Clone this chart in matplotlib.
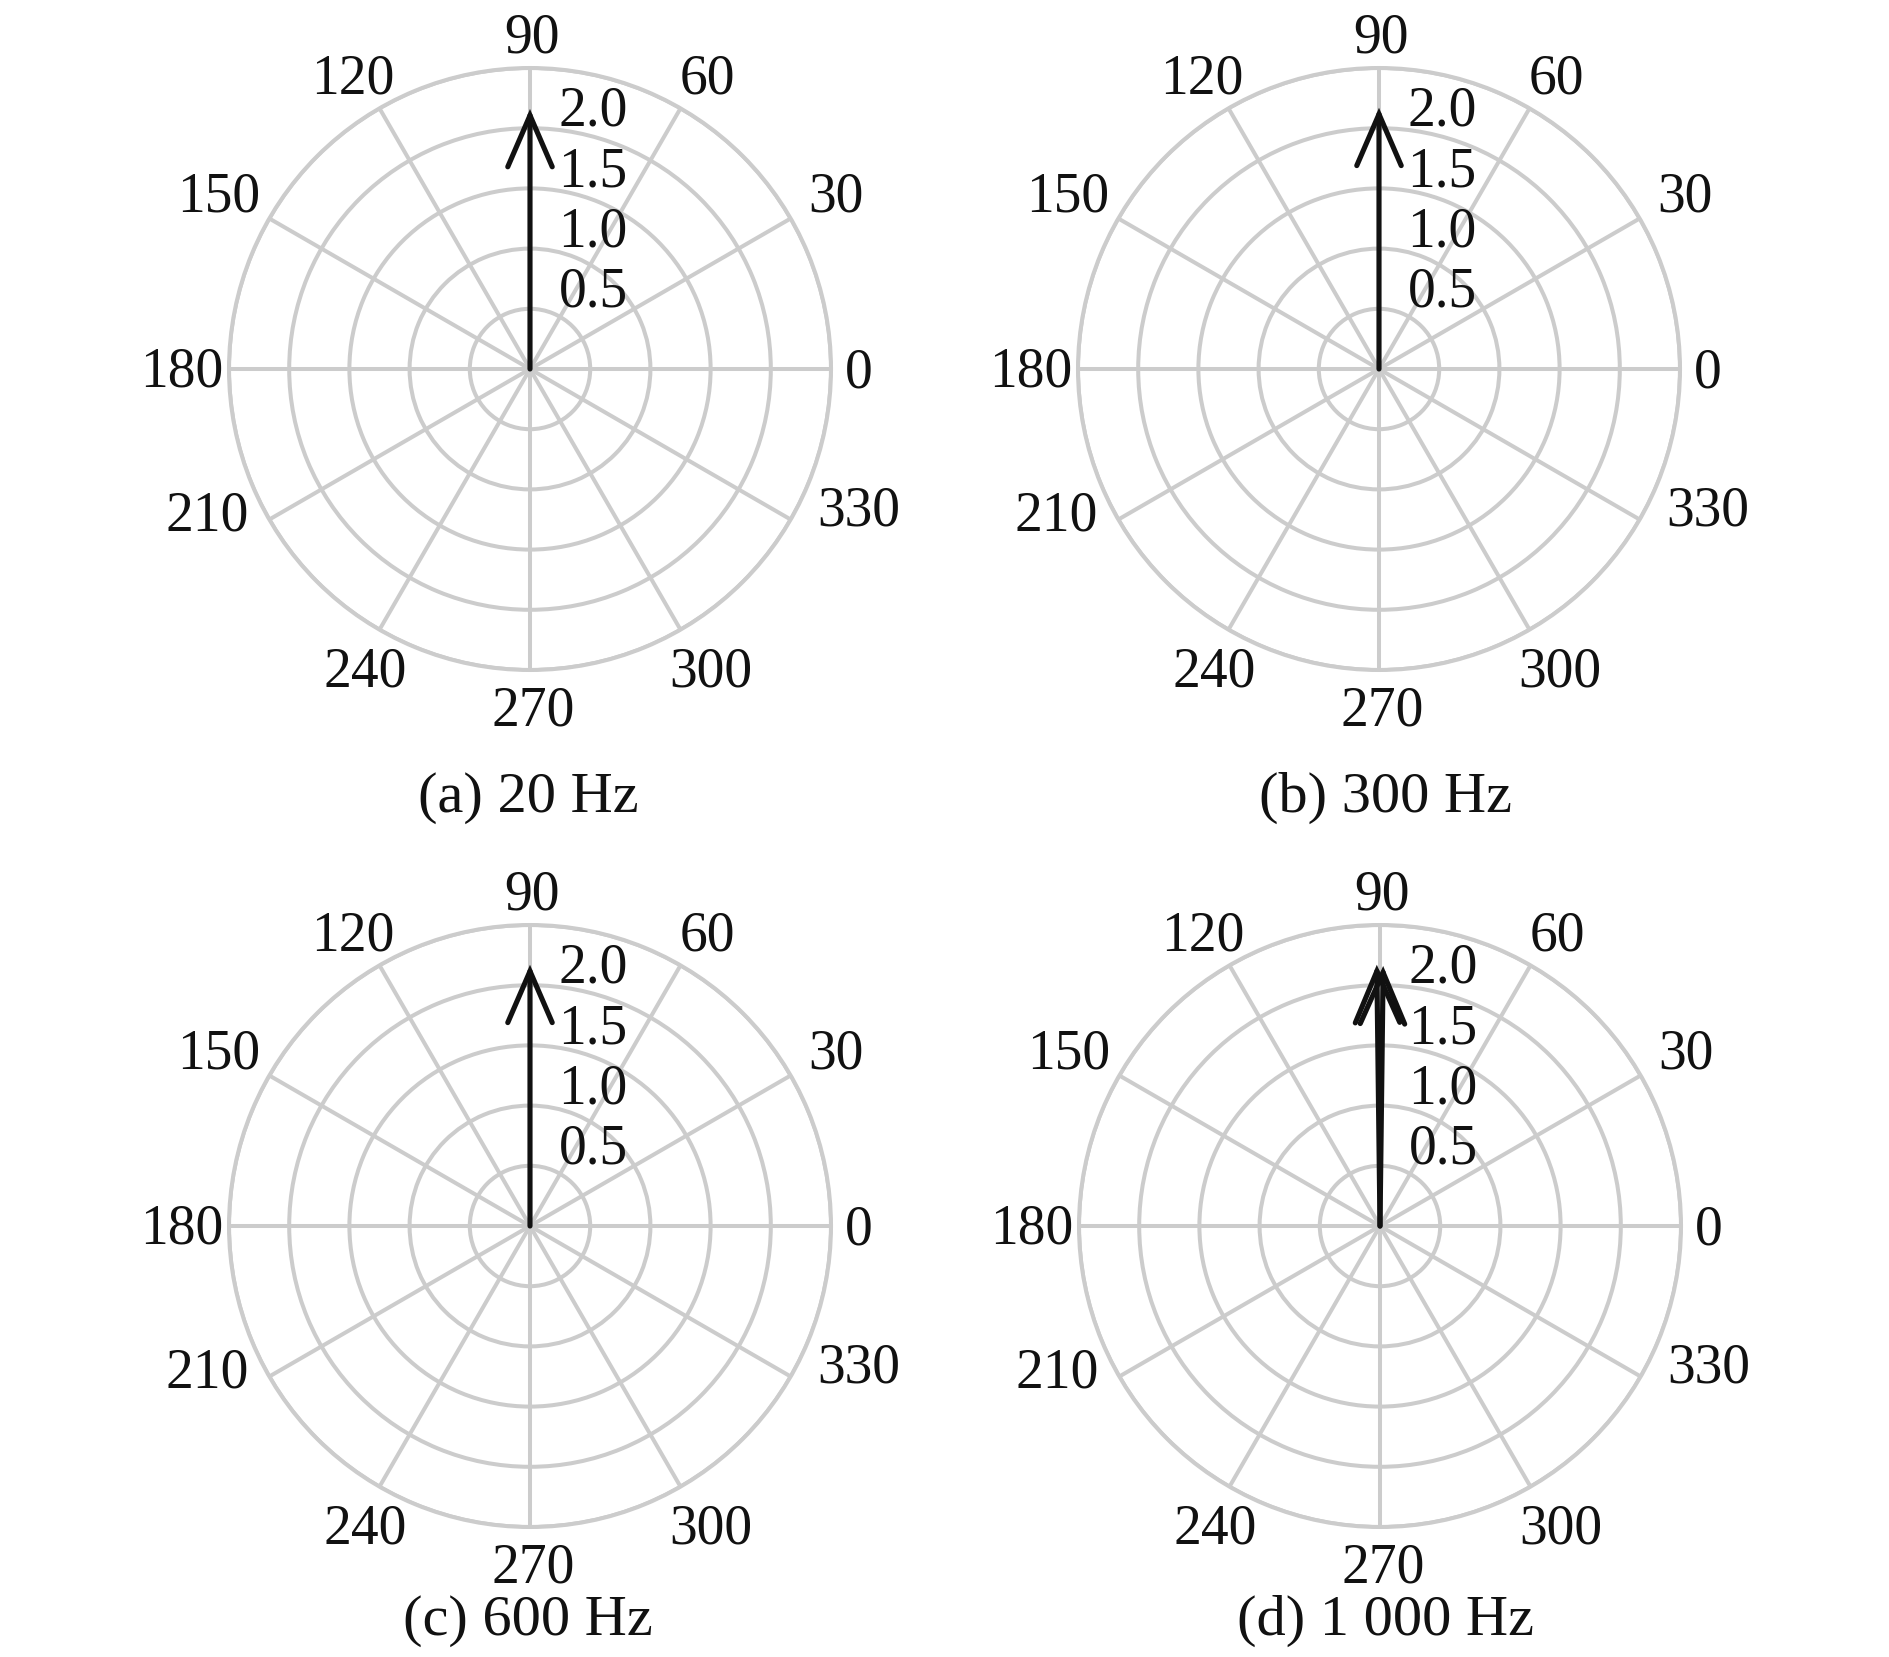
import numpy as np
import matplotlib
matplotlib.use("Agg")
import matplotlib.pyplot as plt
from matplotlib.patches import FancyArrowPatch

plt.rcParams['font.family'] = ['Liberation Serif', 'DejaVu Serif']

captions = ["(a) 20 Hz", "(b) 300 Hz", "(c) 600 Hz", "(d) 1 000 Hz"]
# vectors per panel: (angle in degrees, magnitude)
vec_angles = [[90.0], [90.0], [90.0], [90.7, 89.3]]
vec_mags = [[2.16], [2.17], [2.17], [2.17, 2.16]]
theta_ticks = [0, 30, 60, 90, 120, 150, 180, 210, 240, 270, 300, 330]
r_ticks = [0.5, 1.0, 1.5, 2.0, 2.5]
r_labels = ["0.5", "1.0", "1.5", "2.0"]
r_max = 2.5

# layout: pixel offsets of the angle-label centres from the plot centre
theta_label_offsets = {
    0: (329, 1), 30: (306, 177), 60: (177, 295), 90: (2, 336),
    120: (-177, 295), 150: (-311, 177), 180: (-348, 2), 210: (-323, -142),
    240: (-165, -298), 270: (3, -337), 300: (181, -298), 330: (329, -137),
}

W, H = 1890, 1658
DPI = 100
fig = plt.figure(figsize=(W / DPI, H / DPI), dpi=DPI)
centers = [(530, 370), (1379, 370), (530, 1227), (1380, 1227)]
cap_pos = [(528, 798), (1386, 798), (528, 1621), (1386, 1621)]
R = 301
grid_col = '#cccccc'
txt_col = '#111111'
fs = 40
half_cap = 0.335 * fs * DPI / 72.0  # half of digit height in pixels

for i in range(4):
    cx, cy = centers[i]
    ax = fig.add_axes([(cx - R) / W, 1 - (cy + R) / H, 2 * R / W, 2 * R / H], projection='polar')
    ax.set_ylim(0, r_max)
    ax.set_thetagrids(theta_ticks, [''] * len(theta_ticks))
    ax.set_rticks(r_ticks)
    ax.set_yticklabels([])
    ax.grid(True, color=grid_col, linewidth=2.9)
    ax.spines['polar'].set_color(grid_col)
    ax.spines['polar'].set_linewidth(2.9)
    for t in theta_ticks:
        dx, dy = theta_label_offsets[t]
        ax.annotate(str(t), xy=(0, 0), xytext=(dx, dy - half_cap), textcoords='offset pixels',
                    ha='center', va='baseline', fontsize=fs, color=txt_col,
                    annotation_clip=False)
    for rv, rl in zip(r_ticks, r_labels):
        ax.annotate(rl, xy=(np.pi / 2, rv), xytext=(63, 22 - half_cap), textcoords='offset pixels',
                    ha='center', va='baseline', fontsize=fs, color=txt_col, zorder=5)
    for a, m in zip(vec_angles[i], vec_mags[i]):
        arr = FancyArrowPatch((np.deg2rad(a), 0), (np.deg2rad(a), m),
                              arrowstyle='->,head_length=3.7,head_width=1.6',
                              mutation_scale=10, color=txt_col, linewidth=3.7,
                              shrinkA=0, shrinkB=0, zorder=6,
                              capstyle='round', joinstyle='miter')
        ax.add_patch(arr)
    fig.text(cap_pos[i][0] / W, 1 - cap_pos[i][1] / H, captions[i], ha='center', va='center',
             fontsize=42, color=txt_col)

fig.savefig('out.png', dpi=DPI)
